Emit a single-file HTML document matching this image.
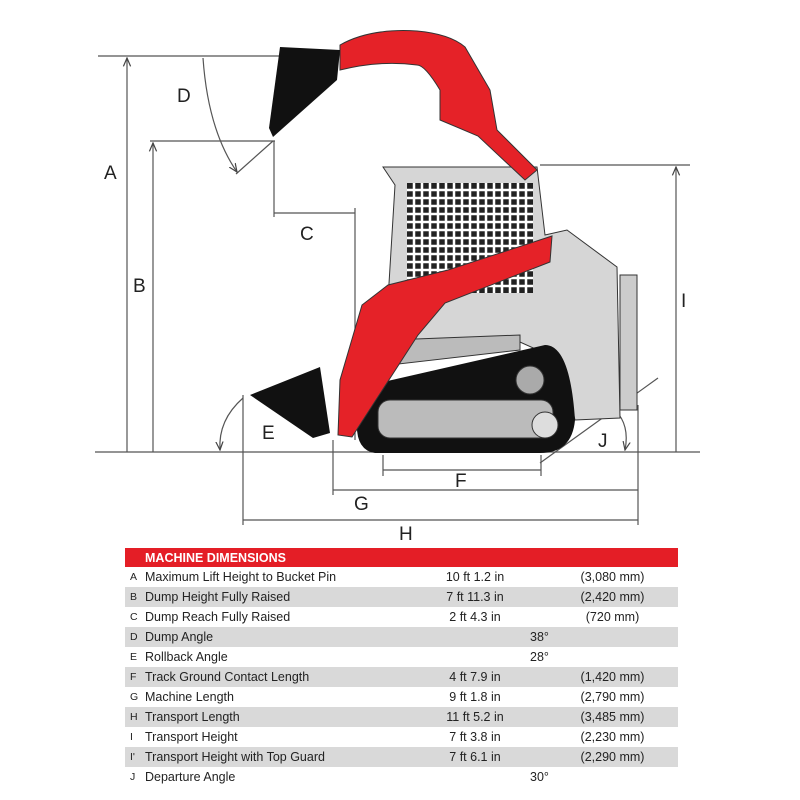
<!DOCTYPE html>
<html><head><meta charset="utf-8"><style>
body{margin:0;background:#fff;width:800px;height:800px;overflow:hidden;font-family:"Liberation Sans",Arial,sans-serif}
.t{position:absolute;left:125px;top:548px;width:553px}
.h{background:#e41e26;color:#fff;font-weight:bold;font-size:12.5px;height:19px;line-height:20px;padding-left:20px}
.r{position:relative;height:20px;line-height:20px;font-size:12.5px;color:#222}
.r.g{background:#d9d9d9}
.r span{position:absolute}
.l{left:5px;font-size:10.5px}
.n{left:20px}
.v{left:300px;width:100px;text-align:center}
.d{left:405px}
.m{left:450px;width:75px;text-align:center}
</style></head><body>
<svg width="800" height="545" style="position:absolute;left:0;top:0" font-family="Liberation Sans, Arial, sans-serif">
<defs><marker id="a" markerWidth="8" markerHeight="8" refX="7" refY="4" orient="auto"><path d="M0,1 L7,4 L0,7" fill="none" stroke="#444" stroke-width="1"/></marker></defs>
<g stroke="#555" stroke-width="1.2" fill="none">
<line x1="98" y1="56" x2="282" y2="56"/>
<line x1="127" y1="452" x2="127" y2="58" marker-end="url(#a)"/>
<line x1="150" y1="141" x2="275" y2="141"/>
<line x1="153" y1="452" x2="153" y2="143" marker-end="url(#a)"/>
<line x1="274" y1="141" x2="274" y2="217"/>
<line x1="274" y1="213" x2="355" y2="213"/>
<line x1="355" y1="208" x2="355" y2="440"/>
<line x1="273" y1="141" x2="236" y2="174"/>
<path d="M203,58 Q208,130 237,172" marker-end="url(#a)"/>
<line x1="95" y1="452" x2="700" y2="452"/>
<line x1="243" y1="395" x2="243" y2="525"/>
<path d="M243,398 Q218,420 220,450" marker-end="url(#a)"/>
<line x1="333" y1="440" x2="333" y2="495"/>
<line x1="383" y1="455" x2="383" y2="476"/>
<line x1="541" y1="455" x2="541" y2="476"/>
<line x1="383" y1="470" x2="541" y2="470"/>
<line x1="333" y1="490" x2="638" y2="490"/>
<line x1="243" y1="520" x2="638" y2="520"/>
<line x1="638" y1="405" x2="638" y2="525"/>
<line x1="540" y1="463" x2="658" y2="378"/>
<path d="M615,410 Q630,425 625,450" marker-end="url(#a)"/>
<line x1="540" y1="165" x2="690" y2="165"/>
<line x1="676" y1="452" x2="676" y2="167" marker-end="url(#a)"/>
</g>
<!-- machine body -->
<path d="M383,167 L537,167 L545,235 L567,230 L617,267 L620,418 L575,420 L560,360 L520,342 L390,360 L388,300 L395,185 Z" fill="#d6d6d6" stroke="#333"/>
<rect x="620" y="275" width="17" height="135" fill="#ccc" stroke="#333"/>
<rect x="407" y="183" width="126" height="110" fill="#222"/>
<g stroke="#fff" stroke-width="2.5">
<path d="M407,190H533M407,198H533M407,206H533M407,214H533M407,222H533M407,230H533M407,238H533M407,246H533M407,254H533M407,262H533M407,270H533M407,278H533M407,286H533"/>
<path d="M414,183V293M422,183V293M430,183V293M438,183V293M446,183V293M454,183V293M462,183V293M470,183V293M478,183V293M486,183V293M494,183V293M502,183V293M510,183V293M518,183V293M526,183V293"/>
</g>
<path d="M390,340 L520,335 L520,350 L390,365 Z" fill="#bbb" stroke="#333"/>
<path d="M370,385 L545,345 Q570,345 575,420 Q572,453 540,453 L375,453 Q355,450 357,420 Q358,390 370,385 Z" fill="#111"/>
<rect x="378" y="400" width="175" height="38" rx="12" fill="#bbb" stroke="#333"/>
<circle cx="545" cy="425" r="13" fill="#ddd" stroke="#333"/>
<circle cx="530" cy="380" r="14" fill="#aaa" stroke="#333"/>
<!-- arms -->
<path d="M340,45 Q370,28 417,31 Q450,34 465,47 L490,90 L497,130 L537,170 L525,180 L478,136 L440,120 L440,90 Q425,65 417,65 Q380,60 340,70 Z" fill="#e52228" stroke="#333"/>
<path d="M552,236 L550,262 L445,303 L418,335 L352,437 L338,435 L340,380 L362,305 L388,285 L448,270 Z" fill="#e52228" stroke="#333"/>
<path d="M280,47 L340,50 L337,80 L273,137 L269,128 Z" fill="#111"/>
<path d="M250,395 L320,367 L330,433 L313,438 Z" fill="#111"/>
<g font-size="19" fill="#222">
<text x="104" y="179">A</text><text x="133" y="292">B</text><text x="300" y="240">C</text>
<text x="177" y="102">D</text><text x="262" y="439">E</text><text x="455" y="487">F</text>
<text x="354" y="510">G</text><text x="399" y="540">H</text><text x="681" y="307">I</text><text x="598" y="447">J</text>
</g>
</svg>
<div class="t">
<div class="h">MACHINE DIMENSIONS</div>
<div class="r"><span class="l">A</span><span class="n">Maximum Lift Height to Bucket Pin</span><span class="v">10 ft 1.2 in</span><span class="m">(3,080 mm)</span></div>
<div class="r g"><span class="l">B</span><span class="n">Dump Height Fully Raised</span><span class="v">7 ft 11.3 in</span><span class="m">(2,420 mm)</span></div>
<div class="r"><span class="l">C</span><span class="n">Dump Reach Fully Raised</span><span class="v">2 ft 4.3 in</span><span class="m">(720 mm)</span></div>
<div class="r g"><span class="l">D</span><span class="n">Dump Angle</span><span class="d">38°</span></div>
<div class="r"><span class="l">E</span><span class="n">Rollback Angle</span><span class="d">28°</span></div>
<div class="r g"><span class="l">F</span><span class="n">Track Ground Contact Length</span><span class="v">4 ft 7.9 in</span><span class="m">(1,420 mm)</span></div>
<div class="r"><span class="l">G</span><span class="n">Machine Length</span><span class="v">9 ft 1.8 in</span><span class="m">(2,790 mm)</span></div>
<div class="r g"><span class="l">H</span><span class="n">Transport Length</span><span class="v">11 ft 5.2 in</span><span class="m">(3,485 mm)</span></div>
<div class="r"><span class="l">I</span><span class="n">Transport Height</span><span class="v">7 ft 3.8 in</span><span class="m">(2,230 mm)</span></div>
<div class="r g"><span class="l">I'</span><span class="n">Transport Height with Top Guard</span><span class="v">7 ft 6.1 in</span><span class="m">(2,290 mm)</span></div>
<div class="r"><span class="l">J</span><span class="n">Departure Angle</span><span class="d">30°</span></div>
</div>
</body></html>
